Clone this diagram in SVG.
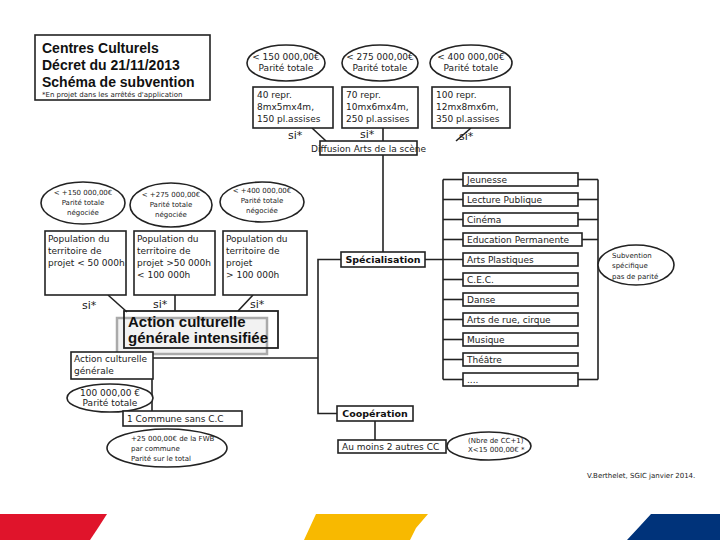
<svg xmlns="http://www.w3.org/2000/svg" width="720" height="540" viewBox="0 0 720 540">
<style>
.b{fill:#fff;stroke:#222;stroke-width:1.6}
.e{fill:#fff;stroke:#222;stroke-width:1.6}
.c{fill:none;stroke:#222;stroke-width:1.6}
.t{font-family:"DejaVu Sans",sans-serif;font-size:9px;fill:#222}
.s{font-family:"DejaVu Sans",sans-serif;font-size:7px;fill:#222}
.si{font-family:"DejaVu Sans",sans-serif;font-size:11px;fill:#222}
.h{font-family:"Liberation Sans",sans-serif;font-size:14px;font-weight:bold;fill:#111}
.bd{font-family:"DejaVu Sans",sans-serif;font-size:9.5px;font-weight:bold;fill:#111}
.big{font-family:"Liberation Sans",sans-serif;font-size:15px;font-weight:bold;fill:#111}
.m{text-anchor:middle}
</style>
<rect width="720" height="540" fill="#fff"/>

<g id="connectors">
  <line class="c" x1="312" y1="128" x2="326" y2="141"/>
  <line class="c" x1="383" y1="128" x2="383" y2="141"/>
  <line class="c" x1="471" y1="128" x2="456" y2="141"/>
  <line class="c" x1="383" y1="155" x2="383" y2="252"/>
  <polyline class="c" points="341,259.5 318,259.5 318,413.5 337,413.5"/>
  <line class="c" x1="153" y1="358" x2="318" y2="358"/>
  <line class="c" x1="425" y1="259.5" x2="463" y2="259.5" stroke-width="2.2"/>
  <line class="c" x1="443" y1="179.5" x2="443" y2="379.5"/>
  <g class="c">
    <line x1="443" y1="179.5" x2="463" y2="179.5"/>
    <line x1="443" y1="199.5" x2="463" y2="199.5"/>
    <line x1="443" y1="219.5" x2="463" y2="219.5"/>
    <line x1="443" y1="239.5" x2="463" y2="239.5"/>
    <line x1="443" y1="279.5" x2="463" y2="279.5"/>
    <line x1="443" y1="299.5" x2="463" y2="299.5"/>
    <line x1="443" y1="319.5" x2="463" y2="319.5"/>
    <line x1="443" y1="339.5" x2="463" y2="339.5"/>
    <line x1="443" y1="359.5" x2="463" y2="359.5"/>
    <line x1="443" y1="379.5" x2="463" y2="379.5"/>
    <line x1="578" y1="179.5" x2="598" y2="179.5"/>
    <line x1="578" y1="199.5" x2="598" y2="199.5"/>
    <line x1="578" y1="219.5" x2="598" y2="219.5"/>
    <line x1="582" y1="239.5" x2="598" y2="239.5"/>
    <line x1="578" y1="379.5" x2="598" y2="379.5"/>
  </g>
  <line class="c" x1="598" y1="179.5" x2="598" y2="379.5"/>
  <line class="c" x1="108" y1="295" x2="127" y2="312"/>
  <line class="c" x1="175" y1="295" x2="175" y2="311"/>
  <line class="c" x1="253" y1="295" x2="238" y2="311"/>
  <line class="c" x1="152" y1="379" x2="152" y2="411"/>
  <line class="c" x1="375" y1="421" x2="375" y2="440"/>
</g>

<g id="title">
  <rect class="b" x="35" y="35" width="175" height="65"/>
  <text class="h" x="42" y="53">Centres Culturels</text>
  <text class="h" x="42" y="70">Décret du 21/11/2013</text>
  <text class="h" x="42" y="87">Schéma de subvention</text>
  <text class="s" x="42" y="97" font-size="6.5">*En projet dans les arrêtés d'application</text>
</g>

<g id="top-ellipse-1"><ellipse class="e" cx="286" cy="63" rx="39" ry="18"/>
  <text class="t m" x="286" y="60" font-size="7.5">&lt; 150 000,00€</text>
  <text class="t m" x="286" y="71" font-size="7.5">Parité totale</text></g>
<g id="top-ellipse-2"><ellipse class="e" cx="380" cy="63" rx="38" ry="18"/>
  <text class="t m" x="380" y="60" font-size="7.5">&lt; 275 000,00€</text>
  <text class="t m" x="380" y="71" font-size="7.5">Parité totale</text></g>
<g id="top-ellipse-3"><ellipse class="e" cx="471" cy="63" rx="41" ry="18"/>
  <text class="t m" x="471" y="60" font-size="7.5">&lt; 400 000,00€</text>
  <text class="t m" x="471" y="71" font-size="7.5">Parité totale</text></g>

<g id="top-box-1"><rect class="b" x="253" y="87" width="80" height="41"/>
  <text class="t" x="257" y="98" font-size="9.5">40 repr.</text>
  <text class="t" x="257" y="110" font-size="9.5">8mx5mx4m,</text>
  <text class="t" x="257" y="122" font-size="9.5">150 pl.assises</text></g>
<g id="top-box-2"><rect class="b" x="342" y="87" width="76" height="41"/>
  <text class="t" x="346" y="98" font-size="9.5">70 repr.</text>
  <text class="t" x="346" y="110" font-size="9.5">10mx6mx4m,</text>
  <text class="t" x="346" y="122" font-size="9.5">250 pl.assises</text></g>
<g id="top-box-3"><rect class="b" x="432" y="87" width="78" height="41"/>
  <text class="t" x="436" y="98" font-size="9.5">100 repr.</text>
  <text class="t" x="436" y="110" font-size="9.5">12mx8mx6m,</text>
  <text class="t" x="436" y="122" font-size="9.5">350 pl.assises</text></g>

<g id="si-top">
  <text class="si" x="288" y="139">si*</text>
  <text class="si" x="360" y="138">si*</text>
  <text class="si" x="459" y="140">si*</text>
</g>

<g id="diffusion"><rect class="b" x="320" y="141" width="97" height="14"/>
  <text class="t m" x="368.5" y="151.5" font-size="8.3">Diffusion Arts de la scène</text></g>

<g id="left-ellipse-1"><ellipse class="e" cx="83" cy="203" rx="42" ry="21"/>
  <text class="s m" x="83" y="195">&lt; +150 000,00€</text>
  <text class="s m" x="83" y="205">Parité totale</text>
  <text class="s m" x="83" y="215">négociée</text></g>
<g id="left-ellipse-2"><ellipse class="e" cx="171" cy="205" rx="41" ry="22"/>
  <text class="s m" x="171" y="197">&lt; +275 000,00€</text>
  <text class="s m" x="171" y="207">Parité totale</text>
  <text class="s m" x="171" y="217">négociée</text></g>
<g id="left-ellipse-3"><ellipse class="e" cx="262" cy="202" rx="42" ry="20"/>
  <text class="s m" x="262" y="193">&lt; +400 000,00€</text>
  <text class="s m" x="262" y="203">Parité totale</text>
  <text class="s m" x="262" y="213">négociée</text></g>

<g id="left-box-1"><rect class="b" x="45" y="231" width="81" height="64"/>
  <text class="t" x="48" y="242" font-size="9.5">Population du</text>
  <text class="t" x="48" y="254" font-size="9.5">territoire de</text>
  <text class="t" x="48" y="266" font-size="9.5">projet &lt; 50 000h</text></g>
<g id="left-box-2"><rect class="b" x="134" y="231" width="81" height="64"/>
  <text class="t" x="137" y="242" font-size="9.5">Population du</text>
  <text class="t" x="137" y="254" font-size="9.5">territoire de</text>
  <text class="t" x="137" y="266" font-size="9.5">projet &gt;50 000h</text>
  <text class="t" x="137" y="278" font-size="9.5">&lt; 100 000h</text></g>
<g id="left-box-3"><rect class="b" x="223" y="231" width="84" height="64"/>
  <text class="t" x="226" y="242" font-size="9.5">Population du</text>
  <text class="t" x="226" y="254" font-size="9.5">territoire de</text>
  <text class="t" x="226" y="266" font-size="9.5">projet</text>
  <text class="t" x="226" y="278" font-size="9.5"> &gt; 100 000h</text></g>

<g id="si-left">
  <text class="si" x="82" y="309">si*</text>
  <text class="si" x="153" y="308">si*</text>
  <text class="si" x="250" y="308">si*</text>
</g>

<g id="action-intensifiee">
  <rect x="117" y="318" width="150" height="36" fill="#f2f2f2" stroke="#aaa" stroke-width="2.5"/>
  <rect x="124" y="311" width="154" height="37" fill="none" stroke="#222" stroke-width="1.8"/>
  <text class="big" x="128" y="327">Action culturelle</text>
  <text class="big" x="128" y="343">générale intensifiée</text>
</g>

<g id="action-generale"><rect class="b" x="71" y="352" width="82" height="27"/>
  <text class="t" x="74" y="362">Action culturelle</text>
  <text class="t" x="74" y="374">générale</text></g>

<g id="ellipse-100000"><ellipse class="e" cx="110" cy="398" rx="43" ry="14"/>
  <text class="t m" x="110" y="396" font-size="8">100 000,00 €</text>
  <text class="t m" x="110" y="406" font-size="8">Parité totale</text></g>

<g id="commune"><rect class="b" x="123" y="411" width="119" height="15"/>
  <text class="t" x="127" y="422" font-size="10">1 Commune sans C.C</text></g>

<g id="ellipse-fwb"><ellipse class="e" cx="167" cy="448" rx="60" ry="19"/>
  <text class="s" x="131" y="441">+25 000,00€ de la FWB</text>
  <text class="s" x="131" y="451">par commune</text>
  <text class="s" x="131" y="461">Parité sur le total</text></g>

<g id="specialisation"><rect class="b" x="341" y="252" width="84" height="15"/>
  <text class="bd m" x="383" y="263">Spécialisation</text></g>

<g id="list">
  <rect class="b" x="463" y="173" width="115" height="13"/><text class="t" x="467" y="183">Jeunesse</text>
  <rect class="b" x="463" y="193" width="115" height="13"/><text class="t" x="467" y="203">Lecture Publique</text>
  <rect class="b" x="463" y="213" width="115" height="13"/><text class="t" x="467" y="223">Cinéma</text>
  <rect class="b" x="463" y="233" width="119" height="13"/><text class="t" x="467" y="243">Education Permanente</text>
  <rect class="b" x="463" y="253" width="115" height="13"/><text class="t" x="467" y="263">Arts Plastiques</text>
  <rect class="b" x="463" y="273" width="115" height="13"/><text class="t" x="467" y="283">C.E.C.</text>
  <rect class="b" x="463" y="293" width="115" height="13"/><text class="t" x="467" y="303">Danse</text>
  <rect class="b" x="463" y="313" width="115" height="13"/><text class="t" x="467" y="323">Arts de rue, cirque</text>
  <rect class="b" x="463" y="333" width="115" height="13"/><text class="t" x="467" y="343">Musique</text>
  <rect class="b" x="463" y="353" width="115" height="13"/><text class="t" x="467" y="363">Théâtre</text>
  <rect class="b" x="463" y="373" width="115" height="13"/><text class="t" x="467" y="383">....</text>
</g>

<g id="subvention"><ellipse class="e" cx="636" cy="265" rx="38" ry="20"/>
  <text class="s" x="612" y="258">Subvention</text>
  <text class="s" x="612" y="268">spécifique</text>
  <text class="s" x="612" y="279">pas de parité</text></g>

<g id="cooperation"><rect class="b" x="337" y="406" width="76" height="15"/>
  <text class="bd m" x="375" y="417">Coopération</text></g>

<g id="au-moins"><rect class="b" x="338" y="440" width="108" height="13"/>
  <text class="t" x="342" y="450">Au moins 2 autres CC</text></g>

<g id="ellipse-nbre"><ellipse class="e" cx="489" cy="446" rx="42" ry="14"/>
  <text class="s" x="468" y="443">(Nbre de CC+1)</text>
  <text class="s" x="468" y="452">X&lt;15 000,00€ *</text></g>

<text class="s" x="587" y="478" font-size="6">V.Berthelet, SGIC janvier 2014.</text>

<g id="footer">
  <polygon points="0,514 107,514 98,528 90,540 0,540" fill="#e0142b"/>
  <polygon points="316,514 428,514 416,528 410,540 304,540" fill="#f8b900"/>
  <polygon points="651,514 720,514 720,540 627,540 640,526" fill="#00337a"/>
</g>
</svg>
